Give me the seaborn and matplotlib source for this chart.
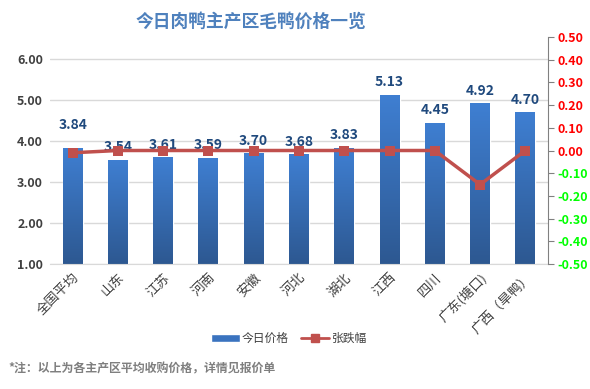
import numpy as np
import pandas as pd
import matplotlib
matplotlib.use('Agg')
import matplotlib.pyplot as plt
import seaborn as sns
from matplotlib.lines import Line2D
from matplotlib.patches import Patch
from matplotlib.colors import LinearSegmentedColormap

# ==========================
# Datos
# ==========================
regiones = ['全国平均', '山东', '江苏', '河南', '安徽', '河北', '湖北',
            '江西', '四川', '广东(塘口)', '广西（旱鸭）']
precio = [3.84, 3.54, 3.61, 3.59, 3.70, 3.68, 3.83, 5.13, 4.45, 4.92, 4.70]
cambio = [-0.01, 0.00, 0.00, 0.00, 0.00, 0.00, 0.00, 0.00, 0.00, -0.15, 0.00]

df = pd.DataFrame({'region': regiones, 'precio': precio, 'cambio': cambio})

sns.set_style('white')
plt.rcParams['font.family'] = ['Noto Sans CJK SC', 'DejaVu Sans']

azul = '#3A73BF'
rojo = '#C0504D'
y_min, y_max = 1, 6.54

fig = plt.figure(figsize=(5.9, 3.89), dpi=100)
ax = fig.add_axes([50 / 590, 125 / 389, 498 / 590, 227 / 389])

sns.barplot(data=df, x='region', y='precio', color=azul, width=0.44,
            saturation=1, ax=ax, zorder=2)

# degradado en las barras
cmap = LinearSegmentedColormap.from_list('grad', ['#2D5891', '#3F7FD2'])
grad = np.linspace(0, 1, 256).reshape(-1, 1)
for p in list(ax.patches):
    x0 = p.get_x()
    w, top = p.get_width(), p.get_y() + p.get_height()
    im = ax.imshow(grad, cmap=cmap, aspect='auto', origin='lower',
                   extent=[x0, x0 + w, y_min, top], zorder=2.1)
    im.set_clip_path(p)

ax.set_ylim(y_min, y_max)
ax.set_xlim(-0.5, len(regiones) - 0.5)
ax.set_yticks([1, 2, 3, 4, 5, 6])
ax.set_yticklabels([f'{v:.2f}' for v in [1, 2, 3, 4, 5, 6]],
                   fontsize=9, color='#404040', fontweight='bold')
ax.yaxis.grid(True, color='#D9D9D9', linewidth=1)
ax.set_axisbelow(True)
ax.set_xlabel('')
ax.set_ylabel('')
for s in ['top', 'left', 'right']:
    ax.spines[s].set_visible(False)
ax.spines['bottom'].set_color('#D9D9D9')
ax.tick_params(axis='both', length=0, pad=5)
ax.set_xticks(range(len(regiones)))
ax.set_xticklabels(regiones, rotation=45, ha='right', rotation_mode='anchor',
                   fontsize=9.5, color='#404040')

# etiquetas de datos
for i, v in enumerate(precio):
    off = 11 if i == 0 else 4
    ax.annotate(f'{v:.2f}', (i, v), xytext=(0, off), textcoords='offset points',
                ha='center', va='bottom', fontsize=10, fontweight='bold',
                color='#1F497D', zorder=5)

# eje secundario
ax2 = ax.twinx()
sns.lineplot(x=np.arange(len(regiones)), y=cambio, ax=ax2, color=rojo,
             linewidth=2.5, marker='s', markersize=7, markeredgewidth=0,
             zorder=3)
ax2.set_ylim(-0.5, 0.5)
ticks2 = [round(-0.5 + 0.1 * k, 2) for k in range(11)]
ax2.set_yticks(ticks2)
ax2.set_yticklabels([f'{abs(t):.2f}' if abs(t) < 1e-9 else f'{t:.2f}' for t in ticks2],
                    fontsize=9, fontweight='bold')
for t, lab in zip(ticks2, ax2.get_yticklabels()):
    lab.set_color('#FF0000' if t > -1e-9 else '#00FF00')
ax2.tick_params(axis='y', length=4, color='#808080', pad=3)
for s in ['top', 'left', 'bottom']:
    ax2.spines[s].set_visible(False)
ax2.spines['right'].set_color('#808080')

# título
fig.text(0.425, 0.945, '今日肉鸭主产区毛鸭价格一览', ha='center', va='center',
         fontsize=12.8, fontweight='bold', color='#4F81BD')

# leyenda
handles = [Patch(facecolor=azul, label='今日价格'),
           Line2D([0], [0], color=rojo, linewidth=2, marker='s', markersize=6,
                  label='张跌幅')]
fig.legend(handles=handles, loc='center', bbox_to_anchor=(0.49, 0.13), ncol=2,
           frameon=False, fontsize=8.5, handlelength=2.4, columnspacing=1.0,
           handletextpad=0.2, labelcolor='#404040')

# nota
fig.text(0.015, 0.052, '*注：以上为各主产区平均收购价格，详情见报价单',
         fontsize=8.6, fontweight='bold', color='#7F7F7F', va='center')

fig.savefig('out.png', dpi=100)
